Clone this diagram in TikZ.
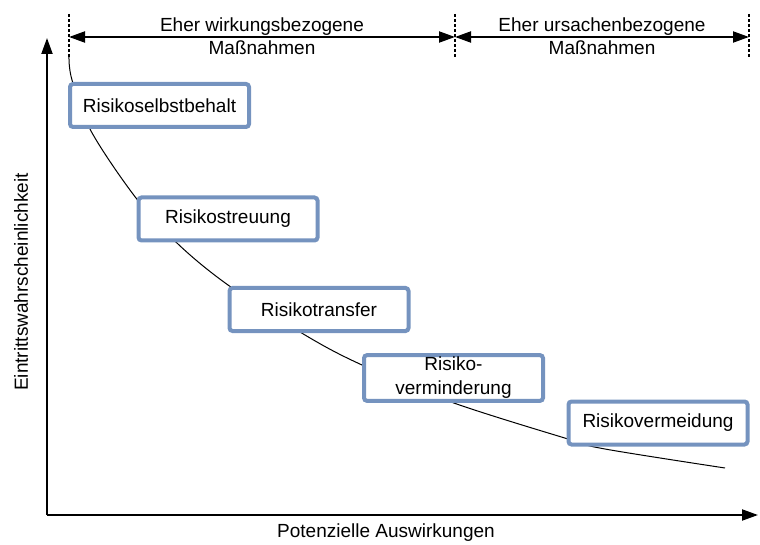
\documentclass[tikz,border=0pt]{standalone}
\usepackage{fontspec}
\setmainfont{Liberation Sans}
\usetikzlibrary{positioning, arrows.meta}
\definecolor{boxblue}{RGB}{117,147,191}

\begin{document}
\begin{tikzpicture}[
    x=0.5pt, y=-0.5pt,
    font=\fontsize{9.5}{11.5}\selectfont,
    massnahme/.style={draw=boxblue, line width=2pt, fill=white, rounded corners=1.5pt, minimum width=89.5pt, minimum height=21.5pt, inner sep=1pt, align=center},
    axis/.style={line width=1pt, -{Triangle[length=8pt, width=5.5pt]}},
    bereich/.style={line width=1pt, {Triangle[length=8pt, width=5.5pt]}-{Triangle[length=8pt, width=5.5pt]}},
    grenze/.style={line width=0.6pt, dash pattern=on 1.5pt off 1pt}
  ]
    \useasboundingbox (0,0) rectangle (760,545);
    % axes
    \coordinate (origin) at (47,515);
    \coordinate (ytop) at (47,38);
    \coordinate (xend) at (758,515);
    \draw[axis] (origin) -- (ytop);
    \draw[axis] (origin) -- (xend);
    \node (xlabel) at (386,533) {Potenzielle Auswirkungen};
    \node[rotate=90] (ylabel) at (21,282) {Eintrittswahrscheinlichkeit};
    % ranges on top
    \coordinate (g1top) at (69,14);   \coordinate (g1bot) at (69,57);
    \coordinate (g2top) at (455,14);  \coordinate (g2bot) at (455,57);
    \coordinate (g3top) at (749,14);  \coordinate (g3bot) at (749,57);
    \draw[grenze] (g1top) -- (g1bot);
    \draw[grenze] (g2top) -- (g2bot);
    \draw[grenze] (g3top) -- (g3bot);
    \coordinate (r1) at (69,37);
    \coordinate (r2) at (455,37);
    \coordinate (r3) at (749,37);
    \draw[bereich] (r1) -- (r2);
    \draw[bereich] (r2) -- (r3);
    \node[align=center] (wirkung) at (262,36) {Eher wirkungsbezogene\\Maßnahmen};
    \node[align=center] (ursache) at (602,36) {Eher ursachenbezogene\\Maßnahmen};
    % curve
    \draw[line width=0.5pt] plot[smooth, tension=0.55] coordinates {
      (69,57) (72,80) (91,131) (136,198) (178,244) (228,285) (305,335)
      (362,365) (451,402) (568,439) (605,449) (725,468)};
    % measures
    \node[massnahme] (selbst) at (159.5,105.5) {Risikoselbstbehalt};
    \node[massnahme] (streu) at (228,219) {Risikostreuung};
    \node[massnahme] (transfer) at (319,309.5) {Risikotransfer};
    \node[massnahme, font=\fontsize{9.5}{12}\selectfont] (minder) at (453.5,378) {Risiko-\\verminderung};
    \node[massnahme] (meid) at (658,423) {Risikovermeidung};
  \end{tikzpicture}
\end{document}
